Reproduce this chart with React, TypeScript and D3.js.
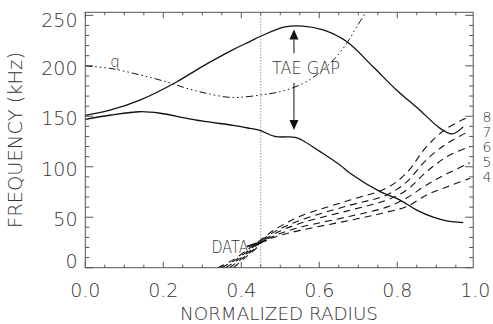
import React from "react";
import * as d3 from "d3";

const W = 493, H = 324;
const X0 = 85.3, X1 = 475.3, Y0 = 267.7, Y1 = 12.3;
const FRAME_RIGHT = 473.2;

const xTicksMajor = [0, 0.2, 0.4, 0.6, 0.8, 1.0];
const xTickLabels = ["0.0", "0.2", "0.4", "0.6", "0.8", "1.0"];
const yTicksMajor = [0, 50, 100, 150, 200, 250];
const yTickLabels = ["0", "50", "100", "150", "200", "250"];

type P = [number, number];

const upperGap: P[] = [[0, 151], [0.063, 156], [0.14, 166], [0.234, 184], [0.294, 198], [0.379, 216], [0.422, 224], [0.448, 229], [0.512, 238.5], [0.558, 239.4], [0.61, 235.5], [0.67, 224], [0.738, 199], [0.798, 176], [0.858, 156], [0.91, 138], [0.94, 132.5], [0.969, 139.5]];
const lowerGap: P[] = [[0, 147], [0.063, 151], [0.14, 154.5], [0.192, 153], [0.26, 148], [0.311, 144.6], [0.379, 141], [0.422, 138], [0.448, 136], [0.486, 130], [0.538, 129.2], [0.555, 126.5], [0.602, 115], [0.653, 101.7], [0.679, 93.5], [0.756, 75.3], [0.807, 67], [0.85, 57], [0.892, 50], [0.927, 46.3], [0.969, 44.6]];
const qProfile: P[] = [[0, 199.8], [0.063, 197.5], [0.14, 191], [0.209, 184], [0.26, 177.7], [0.311, 172.7], [0.363, 169], [0.397, 168.8], [0.448, 171], [0.499, 174.3], [0.55, 181], [0.593, 191], [0.636, 205.7], [0.67, 222], [0.696, 238.7], [0.726, 257]];
const dataSeg: P[] = [[0.414, 20.8], [0.44, 24], [0.465, 27.4]];

const modeNames = ["8", "7", "6", "5", "4"];
const mode8: P[] = [[0.34, 0], [0.38, 8], [0.42, 19], [0.448, 27], [0.487, 38], [0.551, 51], [0.679, 67], [0.773, 79], [0.824, 94], [0.875, 120], [0.927, 138], [0.986, 150]];
const mode7: P[] = [[0.35, 0], [0.39, 9], [0.425, 19], [0.448, 26], [0.487, 36], [0.551, 47], [0.679, 62], [0.773, 72], [0.824, 85], [0.875, 107], [0.927, 123], [0.986, 135.5]];
const mode6: P[] = [[0.36, 0], [0.40, 10], [0.43, 19], [0.448, 25], [0.487, 34], [0.551, 44], [0.679, 57], [0.773, 67], [0.824, 77], [0.875, 95], [0.927, 110], [0.986, 120]];
const mode5: P[] = [[0.37, 0], [0.405, 10], [0.435, 19], [0.448, 24.5], [0.487, 32], [0.551, 40], [0.679, 51], [0.773, 60], [0.824, 69], [0.875, 82], [0.927, 93], [0.986, 104]];
const mode4: P[] = [[0.38, 0], [0.41, 10], [0.44, 20], [0.448, 24], [0.487, 30.5], [0.551, 37], [0.679, 47], [0.773, 55], [0.824, 60.5], [0.875, 72], [0.927, 80], [0.986, 88.5]];
const modes = [mode8, mode7, mode6, mode5, mode4];
const modeLabelY = [149, 134.5, 119.5, 104.5, 89.5];

const gapRadius = 0.45;
const arrowR = 0.535;
const arrowTop = 236, arrowBottom = 136.5, arrowTextTop = 212.5, arrowTextBottom = 183;

const FONT = "'DejaVu Sans', sans-serif";
const TXT = "#333";

export default function App() {
  const x = d3.scaleLinear().domain([0, 1]).range([X0, X1]);
  const y = d3.scaleLinear().domain([0, 253]).range([Y0, Y1]);
  const line = d3.line<P>().x(d => x(d[0])).y(d => y(d[1])).curve(d3.curveCatmullRom.alpha(0.5));

  const xMinor = d3.range(0, 0.995, 0.05);
  const yMinor = d3.range(0, 253, 10);

  const ax = x(arrowR);
  const ah = 10, aw = 4.5;

  return (
    <svg width={W} height={H} style={{ position: "absolute", left: 0, top: 0, background: "#fff" }}>
      <defs>
        <clipPath id="plot">
          <rect x={X0} y={Y1} width={FRAME_RIGHT - X0} height={Y0 - Y1} />
        </clipPath>
      </defs>
      <rect x={X0} y={Y1} width={FRAME_RIGHT - X0} height={Y0 - Y1} fill="none" stroke="#555" strokeWidth={1} />
      {xMinor.map((v, i) => {
        const major = i % 4 === 0;
        const len = major ? 6 : 3;
        return (
          <g key={"xt" + i}>
            <line x1={x(v)} x2={x(v)} y1={Y0} y2={Y0 - len} stroke="#555" />
            <line x1={x(v)} x2={x(v)} y1={Y1} y2={Y1 + len} stroke="#555" />
          </g>
        );
      })}
      {yMinor.map((v, i) => {
        const major = v % 50 === 0;
        const len = major ? 8 : 4;
        return (
          <g key={"yt" + i}>
            <line x1={X0} x2={X0 + len} y1={y(v)} y2={y(v)} stroke="#555" />
            <line x1={FRAME_RIGHT} x2={FRAME_RIGHT - len} y1={y(v)} y2={y(v)} stroke="#555" />
          </g>
        );
      })}
      {xTicksMajor.map((v, i) => (
        <text key={"xl" + i} x={x(v)} y={297} textAnchor="middle" fontFamily={FONT} fontSize={19} fontWeight={200} fill={TXT}>{xTickLabels[i]}</text>
      ))}
      {yTicksMajor.map((v, i) => {
        const cy = Math.max(20.3, Math.min(261, y(v) + 2));
        return (
          <text key={"yl" + i} x={77.5} y={cy + 7} textAnchor="end" fontFamily={FONT} fontSize={19} fontWeight={200} fill={TXT}>{yTickLabels[i]}</text>
        );
      })}
      <text x={279} y={320} textAnchor="middle" fontFamily={FONT} fontSize={18} fontWeight={200} fill={TXT} textLength={198} lengthAdjust="spacingAndGlyphs">NORMALIZED RADIUS</text>
      <text transform="translate(22,140) rotate(-90)" textAnchor="middle" fontFamily={FONT} fontSize={19} fontWeight={200} fill={TXT} textLength={176} lengthAdjust="spacingAndGlyphs">FREQUENCY (kHz)</text>

      <g clipPath="url(#plot)" fill="none">
        <line x1={x(gapRadius)} x2={x(gapRadius)} y1={Y1} y2={Y0} stroke="#666" strokeWidth={1} strokeDasharray="1,2" />
        <path d={line(qProfile) || ""} stroke="#111" strokeWidth={1} strokeDasharray="7,3,1.5,3,1.5,3,1.5,3" />
        <path d={line(upperGap) || ""} stroke="#111" strokeWidth={1.3} />
        <path d={line(lowerGap) || ""} stroke="#111" strokeWidth={1.3} />
        {modes.map((m, i) => (
          <path key={"m" + i} d={line(m) || ""} stroke="#111" strokeWidth={1.1} strokeDasharray="7,5" />
        ))}
        <path d={line(dataSeg) || ""} stroke="#111" strokeWidth={1.8} />
      </g>

      <line x1={ax} x2={ax} y1={y(arrowTop) + ah} y2={y(arrowTextTop)} stroke="#111" strokeWidth={1} />
      <line x1={ax} x2={ax} y1={y(arrowTextBottom)} y2={y(arrowBottom) - ah} stroke="#111" strokeWidth={1} />
      <path d={`M${ax},${y(arrowTop)} L${ax - aw},${y(arrowTop) + ah} L${ax + aw},${y(arrowTop) + ah} Z`} fill="#111" />
      <path d={`M${ax},${y(arrowBottom)} L${ax - aw},${y(arrowBottom) - ah} L${ax + aw},${y(arrowBottom) - ah} Z`} fill="#111" />
      <text x={306} y={74} textAnchor="middle" fontFamily={FONT} fontSize={17} fontWeight={200} fill={TXT} textLength={68} lengthAdjust="spacingAndGlyphs">TAE GAP</text>

      <text x={115} y={67} textAnchor="middle" fontFamily={FONT} fontSize={15} fontWeight={200} fill={TXT}>q</text>
      <text x={230} y={253} textAnchor="middle" fontFamily={FONT} fontSize={17} fontWeight={200} fill={TXT} textLength={37} lengthAdjust="spacingAndGlyphs">DATA</text>
      {modeNames.map((n, i) => (
        <text key={"mn" + i} x={487} y={y(modeLabelY[i]) + 5} textAnchor="middle" fontFamily={FONT} fontSize={14} fontWeight={200} fill={TXT}>{n}</text>
      ))}
    </svg>
  );
}
